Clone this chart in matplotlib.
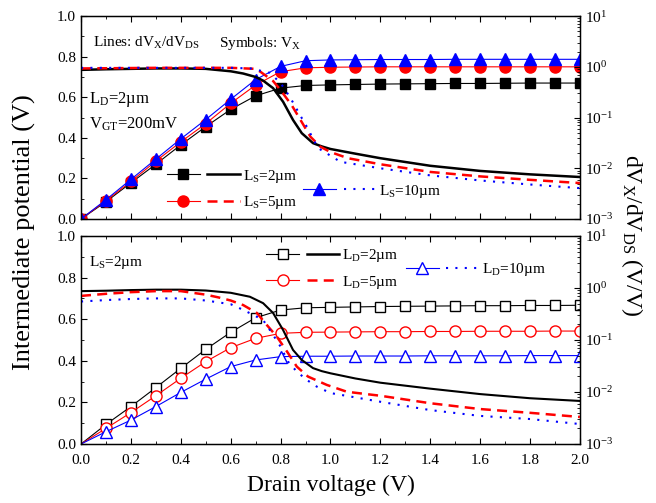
import numpy as np
import matplotlib
matplotlib.use('Agg')
import matplotlib.pyplot as plt
from matplotlib.lines import Line2D
from matplotlib.legend_handler import HandlerTuple
from matplotlib.ticker import MultipleLocator, LogLocator, LogFormatterMathtext, NullFormatter

plt.rcParams['font.family'] = ['Liberation Serif', 'DejaVu Serif']
plt.rcParams['mathtext.fontset'] = 'custom'
plt.rcParams['mathtext.rm'] = 'Liberation Serif'
plt.rcParams['mathtext.it'] = 'Liberation Serif:italic'
plt.rcParams['mathtext.bf'] = 'Liberation Serif:bold'

# symbols: intermediate potential V_X at every 0.1 V of drain voltage
vds = [0.0, 0.1, 0.2, 0.3, 0.4, 0.5, 0.6, 0.7, 0.8, 0.9, 1.0,
       1.1, 1.2, 1.3, 1.4, 1.5, 1.6, 1.7, 1.8, 1.9, 2.0]

# top panel (L_D = 2um), varying L_S
vx_ls2 = [0.0, 0.085, 0.178, 0.27, 0.365, 0.455, 0.54, 0.607, 0.645, 0.658, 0.661,
          0.663, 0.665, 0.666, 0.667, 0.668, 0.668, 0.669, 0.67, 0.67, 0.67]
vx_ls5 = [0.0, 0.09, 0.185, 0.285, 0.38, 0.47, 0.57, 0.66, 0.726, 0.745, 0.748,
          0.749, 0.75, 0.75, 0.75, 0.75, 0.75, 0.75, 0.75, 0.75, 0.75]
vx_ls10 = [0.0, 0.095, 0.195, 0.295, 0.395, 0.49, 0.59, 0.687, 0.752, 0.78, 0.784,
           0.785, 0.786, 0.786, 0.786, 0.787, 0.787, 0.787, 0.787, 0.787, 0.787]

# bottom panel (L_S = 2um), varying L_D
vx_ld2 = [0.0, 0.094, 0.18, 0.271, 0.364, 0.455, 0.537, 0.607, 0.644, 0.655, 0.657,
          0.659, 0.661, 0.662, 0.663, 0.664, 0.665, 0.665, 0.666, 0.666, 0.667]
vx_ld5 = [0.0, 0.075, 0.151, 0.232, 0.316, 0.396, 0.463, 0.508, 0.532, 0.537, 0.538,
          0.539, 0.54, 0.54, 0.541, 0.541, 0.542, 0.542, 0.542, 0.543, 0.543]
vx_ld10 = [0.0, 0.059, 0.115, 0.18, 0.248, 0.312, 0.372, 0.404, 0.42, 0.422, 0.422,
           0.423, 0.423, 0.423, 0.424, 0.424, 0.424, 0.424, 0.425, 0.425, 0.425]

# lines: dVX/dVDS (log scale)
x_top_ls2 = [0.0, 0.1, 0.2, 0.3, 0.4, 0.5, 0.6, 0.65, 0.7, 0.73, 0.77, 0.81, 0.85,
             0.885, 0.93, 0.965, 1.0, 1.1, 1.2, 1.4, 1.6, 1.8, 2.0]
g_top_ls2 = [0.871, 0.895, 0.912, 0.929, 0.929, 0.912, 0.817, 0.738, 0.631, 0.535, 0.38,
             0.205, 0.0895, 0.0492, 0.0313, 0.027, 0.024, 0.0194, 0.0158, 0.0112, 0.00887,
             0.00759, 0.00673]
x_top_ls5 = [0.0, 0.3, 0.6, 0.7, 0.72, 0.77, 0.8, 0.845, 0.88, 0.92, 0.96, 1.0, 1.07,
             1.2, 1.4, 1.6, 1.8, 2.0]
g_top_ls5 = [0.929, 0.955, 0.955, 0.912, 0.794, 0.525, 0.347, 0.174, 0.0895, 0.0417,
             0.0265, 0.0209, 0.0158, 0.012, 0.00847, 0.00692, 0.00592, 0.00511]
x_top_ls10 = [0.0, 0.3, 0.6, 0.68, 0.757, 0.8, 0.838, 0.878, 0.905, 0.95, 1.04, 1.2,
              1.4, 1.6, 1.8, 2.0]
g_top_ls10 = [0.955, 0.955, 0.955, 0.929, 0.759, 0.479, 0.251, 0.112, 0.0661, 0.0251,
              0.0134, 0.01, 0.00724, 0.00575, 0.00479, 0.00406]

x_bot_ld2 = [0.0, 0.1, 0.2, 0.3, 0.4, 0.5, 0.6, 0.677, 0.73, 0.77, 0.81, 0.85, 0.885,
             0.93, 0.965, 1.0, 1.1, 1.2, 1.4, 1.6, 1.8, 2.0]
g_bot_ld2 = [0.871, 0.887, 0.912, 0.929, 0.929, 0.895, 0.809, 0.679, 0.511, 0.331, 0.156,
             0.0643, 0.0413, 0.0288, 0.0252, 0.0229, 0.0182, 0.0151, 0.0116, 0.00912,
             0.00759, 0.00673]
x_bot_ld5 = [0.0, 0.1, 0.2, 0.3, 0.4, 0.5, 0.55, 0.6, 0.65, 0.705, 0.745, 0.785, 0.83,
             0.865, 0.91, 0.985, 1.066, 1.2, 1.4, 1.6, 1.8, 2.0]
g_bot_ld5 = [0.705, 0.773, 0.832, 0.871, 0.871, 0.745, 0.661, 0.575, 0.47, 0.331, 0.194,
             0.116, 0.056, 0.0308, 0.0198, 0.0137, 0.0101, 0.00847, 0.00608, 0.0047,
             0.00398, 0.00331]
x_bot_ld10 = [0.0, 0.1, 0.2, 0.3, 0.4, 0.5, 0.6, 0.65, 0.7, 0.73, 0.765, 0.8, 0.83,
              0.865, 0.905, 0.945, 1.0, 1.2, 1.4, 1.6, 1.8, 2.0]
g_bot_ld10 = [0.55, 0.586, 0.614, 0.631, 0.631, 0.575, 0.488, 0.38, 0.288, 0.242, 0.137,
              0.0745, 0.0384, 0.0247, 0.0171, 0.0127, 0.00955, 0.00649, 0.00449,
              0.00347, 0.00302, 0.00242]

FS = 11
fig = plt.figure(figsize=(6.56, 5.03), dpi=100)
ax1 = fig.add_axes([0.1235, 0.5646, 0.7605, 0.4034])
ax2 = fig.add_axes([0.1235, 0.1173, 0.7605, 0.4135])


def style(ax, labels):
    ax.set_xlim(0, 2.0)
    ax.set_ylim(0, 1.0)
    ax.xaxis.set_major_locator(MultipleLocator(0.2))
    ax.xaxis.set_minor_locator(MultipleLocator(0.1))
    ax.yaxis.set_major_locator(MultipleLocator(0.2))
    ax.yaxis.set_minor_locator(MultipleLocator(0.1))
    ax.tick_params(which='both', direction='in', top=True, right=False, labelsize=FS)
    ax.tick_params(which='major', length=4.5)
    ax.tick_params(which='minor', length=2.5)
    ax.tick_params(axis='x', pad=7)
    if not labels:
        ax.tick_params(labelbottom=False)
    for s in ax.spines.values():
        s.set_linewidth(1.0)


def style_log(axr):
    axr.set_yscale('log')
    axr.set_ylim(1e-3, 1e1)
    axr.yaxis.set_major_locator(LogLocator(base=10))
    axr.yaxis.set_minor_locator(LogLocator(base=10, subs=np.arange(2, 10)))
    axr.yaxis.set_major_formatter(LogFormatterMathtext())
    axr.yaxis.set_minor_formatter(NullFormatter())
    axr.tick_params(which='both', direction='in', labelsize=FS)
    axr.tick_params(which='major', length=4.5)
    axr.tick_params(which='minor', length=2.5)


style(ax1, False)
style(ax2, True)
ax1r = ax1.twinx()
ax2r = ax2.twinx()
style_log(ax1r)
style_log(ax2r)

red = '#ff0000'
blue = '#0000ff'
dash = (4, 2.5)
dots = (1, 3.5)

# top panel symbols
ax1.plot(vds, vx_ls2, '-', color='k', lw=0.8, marker='s', ms=7)
ax1.plot(vds, vx_ls5, '-', color=red, lw=0.8, marker='o', ms=8)
ax1.plot(vds, vx_ls10, '-', color=blue, lw=0.8, marker='^', ms=8.5)
# top panel lines
ax1r.plot(x_top_ls2, g_top_ls2, '-', color='k', lw=1.8)
ax1r.plot(x_top_ls5, g_top_ls5, color=red, lw=1.8, dashes=dash)
ax1r.plot(x_top_ls10, g_top_ls10, color=blue, lw=1.5, dashes=dots)

# bottom panel symbols
ax2.plot(vds, vx_ld2, '-', color='k', lw=0.8, marker='s', ms=7, mfc='white',
         markevery=slice(1, None))
ax2.plot(vds, vx_ld5, '-', color=red, lw=0.8, marker='o', ms=8, mfc='white',
         markevery=slice(1, None))
ax2.plot(vds, vx_ld10, '-', color=blue, lw=0.8, marker='^', ms=8.5, mfc='white',
         markevery=slice(1, None))
# bottom panel lines
ax2r.plot(x_bot_ld2, g_bot_ld2, '-', color='k', lw=1.5)
ax2r.plot(x_bot_ld5, g_bot_ld5, color=red, lw=1.8, dashes=dash)
ax2r.plot(x_bot_ld10, g_bot_ld10, color=blue, lw=1.5, dashes=dots)


def pair(color, marker, ms, mfc, lw, dashes):
    sym = Line2D([], [], color=color, lw=0.8, marker=marker, ms=ms, mfc=mfc)
    if dashes is None:
        ln = Line2D([], [], color=color, lw=lw)
    else:
        ln = Line2D([], [], color=color, lw=lw, dashes=dashes)
    return (sym, ln)


hmap = {tuple: HandlerTuple(ndivide=None, pad=0.5)}
leg_kw = dict(frameon=False, fontsize=FS, handlelength=4.8, handletextpad=0.2,
              borderpad=0, borderaxespad=0, handler_map=hmap)

lg1 = ax1r.legend([pair('k', 's', 7, 'k', 1.8, None), pair(red, 'o', 8, red, 1.8, dash)],
                  [r'L$_\mathrm{S}$=2µm', r'L$_\mathrm{S}$=5µm'],
                  loc='center left', bbox_to_anchor=(0.172, 0.146), labelspacing=0.6, **leg_kw)
ax1r.add_artist(lg1)
ax1r.legend([pair(blue, '^', 8.5, blue, 1.5, dots)], [r'L$_\mathrm{S}$=10µm'],
            loc='center left', bbox_to_anchor=(0.445, 0.138), **leg_kw)

lg2 = ax2r.legend([pair('k', 's', 7, 'white', 1.8, None), pair(red, 'o', 8, 'white', 1.8, dash)],
                  [r'L$_\mathrm{D}$=2µm', r'L$_\mathrm{D}$=5µm'],
                  loc='center left', bbox_to_anchor=(0.371, 0.841), labelspacing=0.6, **leg_kw)
ax2r.add_artist(lg2)
ax2r.legend([pair(blue, '^', 8.5, 'white', 1.5, dots)], [r'L$_\mathrm{D}$=10µm'],
            loc='center left', bbox_to_anchor=(0.651, 0.837), **leg_kw)

# annotations
ax1.text(0.024, 0.867, r'Lines: dV$_\mathrm{X}$/dV$_\mathrm{DS}$', transform=ax1.transAxes,
         fontsize=FS, va='center', ha='left')
ax1.text(0.277, 0.867, r'Symbols: V$_\mathrm{X}$', transform=ax1.transAxes,
         fontsize=FS, va='center', ha='left')
ax1.text(0.016, 0.591, r'L$_\mathrm{D}$=2µm', transform=ax1.transAxes,
         fontsize=12, va='center', ha='left')
ax1.text(0.016, 0.468, r'V$_\mathrm{GT}$=200mV', transform=ax1.transAxes,
         fontsize=12, va='center', ha='left')
ax2.text(0.016, 0.875, r'L$_\mathrm{S}$=2µm', transform=ax2.transAxes,
         fontsize=FS, va='center', ha='left')

ax2.set_xlabel('Drain voltage (V)', fontsize=17, labelpad=6)
fig.text(0.038, 0.539, 'Intermediate potential (V)', rotation=90, fontsize=19,
         va='center', ha='center')
fig.text(0.963, 0.533, r'dV$_\mathrm{X}$/dV$_\mathrm{DS}$ (V/V)', rotation=270, fontsize=17,
         va='center', ha='center')

fig.savefig('out.png', dpi=100)
